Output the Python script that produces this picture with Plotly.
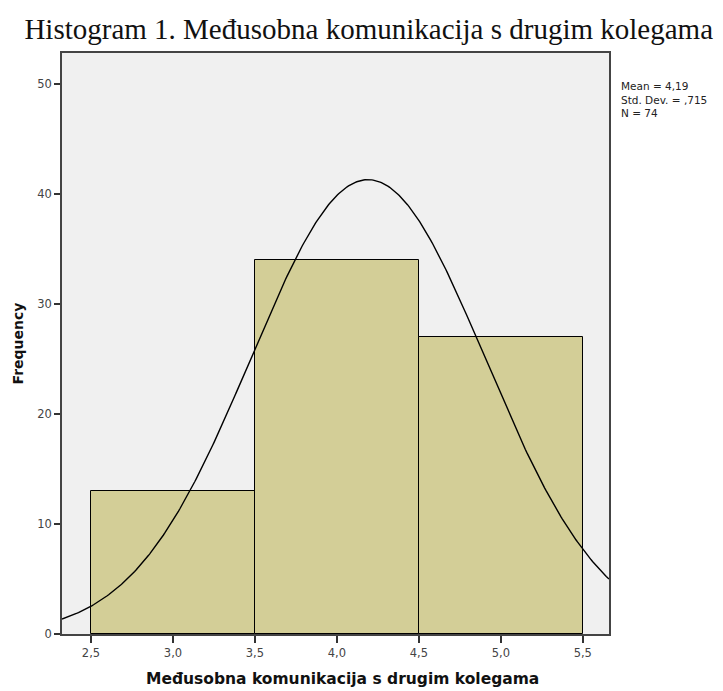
import numpy as np
import plotly.graph_objects as go

# Histogram data: bin centres (width 1) and frequencies
bin_centers = [3.0, 4.0, 5.0]
frequencies = [13, 34, 27]
bin_width = 1.0

# Summary statistics shown in the side box
mean_val = 4.19
std_val = 0.715
n_val = 74
stat_lines = ["Mean = 4,19", "Std. Dev. = ,715", "N = 74"]

x_tick_vals = [2.5, 3.0, 3.5, 4.0, 4.5, 5.0, 5.5]
x_tick_text = ["2,5", "3,0", "3,5", "4,0", "4,5", "5,0", "5,5"]
y_tick_vals = [0, 10, 20, 30, 40, 50]

x_range = [2.323, 5.66]
y_range = [0, 52.8]

SANS = "DejaVu Sans, Verdana, sans-serif"

fig = go.Figure()

fig.add_trace(go.Bar(
    x=bin_centers, y=frequencies, width=bin_width,
    marker=dict(color="#d3ce97", line=dict(color="#000000", width=1)),
    showlegend=False, hoverinfo="skip",
))

# Fitted normal curve scaled to counts
xs = np.linspace(x_range[0], x_range[1], 400)
ys = n_val * bin_width / (std_val * np.sqrt(2 * np.pi)) * np.exp(-0.5 * ((xs - mean_val) / std_val) ** 2)
fig.add_trace(go.Scatter(
    x=xs, y=ys, mode="lines", line=dict(color="#000000", width=1.4),
    showlegend=False, hoverinfo="skip",
))

fig.update_layout(
    width=723, height=691,
    margin=dict(l=62, r=114, t=53, b=57),
    paper_bgcolor="#ffffff",
    plot_bgcolor="#f0f0f0",
    bargap=0,
    title=dict(
        text="Histogram 1. Međusobna komunikacija s drugim kolegama",
        font=dict(family="Liberation Serif, Times New Roman, serif", size=29, color="#111111"),
        x=0.51, xanchor="center", y=0.958, yanchor="middle",
    ),
    xaxis=dict(
        range=x_range, tickvals=x_tick_vals, ticktext=x_tick_text,
        showgrid=False, zeroline=False,
        showline=True, linecolor="#444444", linewidth=1.5, mirror=True,
        ticks="outside", ticklen=7, tickcolor="#333333", tickwidth=1.5,
        tickfont=dict(family=SANS, size=11.5, color="#444444"),
    ),
    yaxis=dict(
        range=y_range, tickvals=y_tick_vals,
        showgrid=False, zeroline=False,
        showline=True, linecolor="#444444", linewidth=1.5, mirror=True,
        ticks="outside", ticklen=6, tickcolor="#333333", tickwidth=1.5,
        tickfont=dict(family=SANS, size=11.5, color="#444444"),
        title=dict(text="<b>Frequency</b>",
                   font=dict(family=SANS, size=14, color="#111111"),
                   standoff=10),
    ),
)

# X-axis title placed as an annotation below the tick labels
fig.add_annotation(
    xref="paper", yref="paper", x=0.513, y=-0.078,
    xanchor="center", yanchor="middle", showarrow=False,
    text="<b>Međusobna komunikacija s drugim kolegama</b>",
    font=dict(family=SANS, size=15.5, color="#111111"),
)

# Statistics block beside the plot area
fig.add_annotation(
    xref="paper", yref="paper", x=1.018, y=0.957,
    xanchor="left", yanchor="top", align="left", showarrow=False,
    text="<br>".join(stat_lines),
    font=dict(family=SANS, size=10.5, color="#222222"),
)

fig.write_html("out.html")
